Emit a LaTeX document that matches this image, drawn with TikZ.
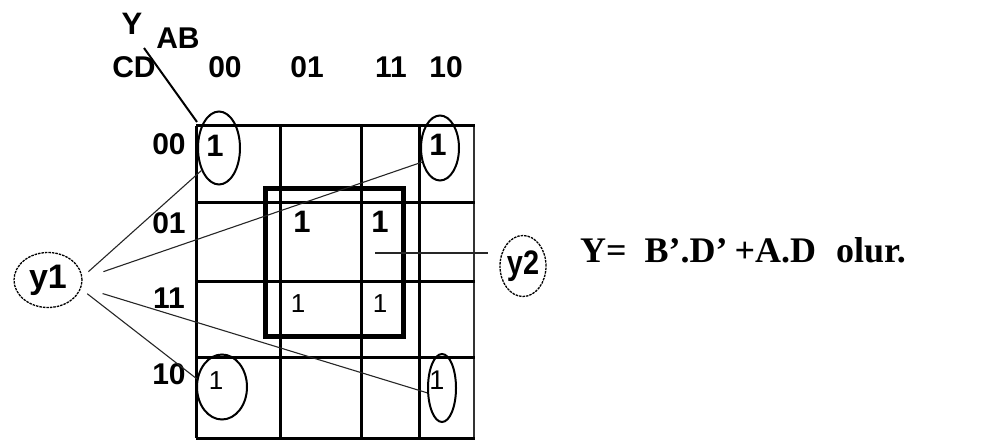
\documentclass[tikz,border=0pt]{standalone}
\usepackage{fontspec}
\setmainfont{Liberation Sans}
\newfontfamily\formulafont{Liberation Serif}
\usetikzlibrary{shapes.geometric}
\tikzset{
  gridline/.style={line width=3pt, draw=black},
  cellone/.style={font=\fontsize{31}{31}\selectfont\bfseries, inner sep=0pt},
  thinone/.style={font=\fontsize{26}{26}\selectfont, inner sep=0pt},
  headlabel/.style={font=\fontsize{30}{30}\selectfont\bfseries, inner sep=0pt},
  groupoval/.style={draw, ellipse, line width=2pt, inner sep=0pt},
  namebubble/.style={draw, ellipse, line width=1.3pt, dash pattern=on 2.5pt off 1pt, inner sep=0pt, font=\bfseries},
  leader/.style={line width=1.1pt, draw=black!85}
}

\begin{document}
\begin{tikzpicture}[x=1pt, y=-1pt]
\useasboundingbox (0,0) rectangle (998,441);

% grid
\foreach \xx in {196,280,361,419} \draw[gridline] (\xx,126) -- (\xx,438);
\draw[line width=2.2pt, draw=black!80] (474,126) -- (474,438);
\foreach \yy in {126,202,281,357,438} \draw[gridline] (196,\yy) -- (475,\yy);
\draw[line width=5pt] (265,188) rectangle (403,336);
\draw[line width=2pt] (144,48) -- (197,122);

% labels
\node[headlabel, font=\fontsize{31}{31}\selectfont\bfseries] (ylab) at (132,24) {Y};
\node[headlabel] (ab) at (178,38) {AB};
\node[headlabel] (cd) at (134,67) {CD};
\node[headlabel] (c00) at (225,67) {00};
\node[headlabel] (c01) at (307,67) {01};
\node[headlabel] (c11) at (391,67) {11};
\node[headlabel] (c10) at (446,67) {10};
\node[headlabel] (r00) at (169,144) {00};
\node[headlabel] (r01) at (169,223) {01};
\node[headlabel] (r11) at (169,298) {11};
\node[headlabel] (r10) at (169,374) {10};

% ones
\node[cellone] (m0) at (215,146) {1};
\node[cellone] (m8) at (438,145) {1};
\node[cellone] (m5) at (302,222) {1};
\node[cellone] (m13) at (380,222) {1};
\node[thinone] (m7) at (298,304) {1};
\node[thinone] (m15) at (380,304) {1};
\node[thinone] (m2) at (216,381) {1};
\node[thinone, font=\fontsize{27}{27}\selectfont] (m10) at (437,380) {1};

% groups
\node[groupoval, minimum width=42pt, minimum height=73pt] (tl) at (219,148) {};
\node[groupoval, minimum width=38pt, minimum height=65pt] (tr) at (440,148) {};
\node[groupoval, minimum width=50pt, minimum height=65pt] (bl) at (222,387) {};
\node[groupoval, minimum width=28pt, minimum height=68pt] (br) at (442,388) {};

\node[namebubble, minimum width=68pt, minimum height=55pt, font=\fontsize{34}{34}\selectfont\bfseries] (y1) at (48,280) {y1};
\node[namebubble, minimum width=46pt, minimum height=61pt, font=\fontsize{34}{34}\selectfont\bfseries] (y2) at (523,266) {\scalebox{0.85}[1]{y2}};
\coordinate (sqin) at (375,253);

\draw[leader, shorten <=8pt] (y1.5) -- (tl.232);
\draw[leader, shorten <=22pt] (y1.2) -- (tr.218);
\draw[leader, shorten <=22pt] (y1.-12) -- (br.198);
\draw[leader, shorten <=8pt] (y1.-15) -- (bl.162);
\draw[leader] (sqin) -- (488,253);

% result
\node[anchor=base west, inner sep=0pt, font=\formulafont\fontsize{36}{36}\selectfont\bfseries] (expr) at (580,262)
  {Y=\hspace{18pt}B’.D’\hspace{7pt}+A.D\hspace{20pt}olur.};
\end{tikzpicture}
\end{document}
